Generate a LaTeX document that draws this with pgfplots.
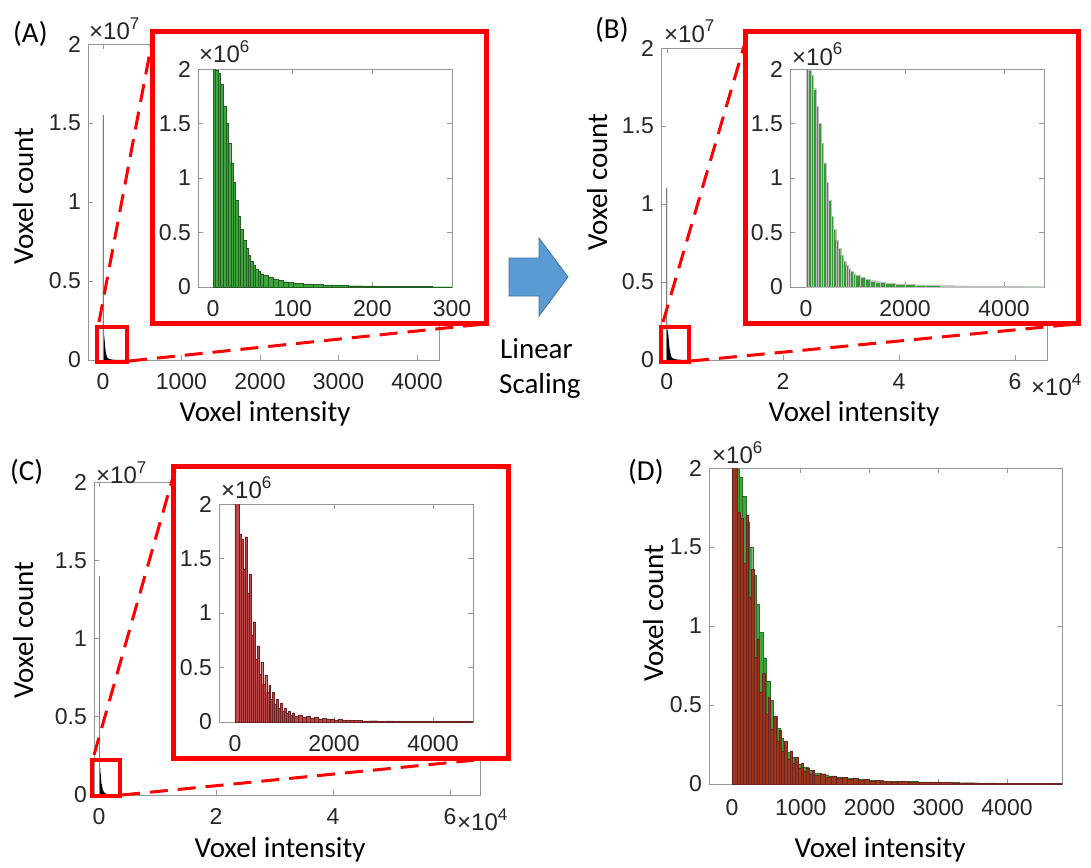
\documentclass[border=0pt]{standalone}
\usepackage{fontspec}
\setmainfont{Carlito}
\newfontfamily\arialf{Liberation Sans}
\usepackage{pgfplots}
\usepackage{pgfplotstable}
\pgfplotsset{compat=1.18}

\definecolor{axgray}{RGB}{150,150,150}
\definecolor{tickcol}{RGB}{38,38,38}
\definecolor{hgreen}{RGB}{62,165,62}
\definecolor{hgreenedge}{RGB}{35,95,35}
\definecolor{hred}{RGB}{190,72,72}
\definecolor{hrededge}{RGB}{110,35,35}
\definecolor{dred}{RGB}{165,45,25}
\definecolor{arrowblue}{RGB}{91,155,213}
\definecolor{arrowedge}{RGB}{65,113,156}

\newcommand\tickfont{\arialf\fontsize{23}{23}\selectfont}
\newcommand\expfont{\arialf\fontsize{24}{24}\selectfont}
\newcommand\labfont{\fontsize{29}{29}\selectfont}
\newcommand\supx[1]{\raisebox{10pt}{\arialf\fontsize{17}{17}\selectfont #1}}

% original intensities (A), counts in 1e6
\pgfplotstableread{
x y
0 15.5
3 1.99
6 1.96
9 1.86
12.5 1.66
16 1.50
19 1.32
22 1.14
25 0.96
28 0.80
31 0.65
34 0.53
37.5 0.43
41 0.355
44 0.29
47 0.24
50 0.20
53 0.168
56 0.143
59 0.123
62.5 0.106
69 0.087
75 0.071
81 0.059
87.5 0.049
94 0.042
100 0.036
112.5 0.029
125 0.023
137.5 0.019
150 0.016
169 0.013
187.5 0.010
206 0.008
225 0.006
250 0.0045
275 0.0035
300 0.003
}\greenA

% linearly scaled intensities (B), counts in 1e6
\pgfplotstableread{
x y
0 11.0
50 1.99
100 1.94
150 1.82
200 1.66
250 1.50
300 1.32
350 1.14
400 0.96
450 0.80
500 0.65
550 0.53
600 0.43
650 0.355
700 0.29
750 0.24
800 0.20
850 0.168
900 0.143
950 0.123
1000 0.106
1100 0.087
1200 0.071
1300 0.059
1400 0.049
1500 0.042
1600 0.036
1800 0.029
2000 0.023
2200 0.019
2400 0.016
2700 0.013
3000 0.010
3300 0.008
3600 0.006
4000 0.0045
4400 0.0035
4800 0.003
}\greenB

% second data set (C), counts in 1e6
\pgfplotstableread{
x y
0 14.0
80 1.72
120 1.68
160 1.40
200 1.70
240 1.18
280 1.36
320 0.80
360 0.92
400 0.58
440 0.70
480 0.44
520 0.55
560 0.35
600 0.43
640 0.27
680 0.34
720 0.21
760 0.27
800 0.16
840 0.21
880 0.13
920 0.17
960 0.10
1000 0.13
1040 0.08
1080 0.10
1120 0.065
1160 0.085
1200 0.055
1280 0.065
1360 0.045
1440 0.052
1520 0.036
1600 0.042
1680 0.029
1760 0.034
1840 0.024
1920 0.028
2000 0.019
2080 0.023
2160 0.016
2240 0.019
2320 0.013
2400 0.015
2560 0.011
2720 0.012
2880 0.009
3040 0.010
3200 0.007
3360 0.008
3520 0.006
3680 0.0065
3840 0.005
4000 0.0055
4160 0.004
4320 0.0045
4480 0.0035
4640 0.004
4800 0
}\redC

\pgfplotsset{
  hist/.style={
    scale only axis, anchor=south west, clip=true,
    axis line style={axgray, line width=0.8pt},
    every tick/.style={axgray, line width=0.6pt},
    major tick length=5pt, tick align=inside,
    ticklabel style={font=\tickfont, text=tickcol},
    xticklabel style={inner sep=0pt, yshift=-13pt},
    yticklabel style={inner sep=0pt, xshift=-7pt},
    scaled ticks=false,
    /pgf/number format/assume math mode=true,
    ymin=0,
  },
  mainy/.style={ymax=20, ytick={0,5,10,15,20}, yticklabels={0,0.5,1,1.5,2}},
  insety/.style={ymax=2, ytick={0,0.5,1,1.5,2}, yticklabels={0,0.5,1,1.5,2}},
}

\begin{document}
\begin{tikzpicture}
\useasboundingbox (0pt,0pt) rectangle (1091pt,-867pt);

% ---------------- (A) ----------------
\begin{axis}[hist, mainy, at={(88pt,-360pt)}, width=351pt, height=316pt,
  xmin=-190, xmax=4280, xtick={0,1000,2000,3000,4000}, xticklabels={0,1000,2000,3000,4000}]
  \addplot[ybar interval, fill=black, draw=none] table[x=x,y=y] {\greenA};
  \addplot[gray, line width=0.8pt] coordinates {(0,0) (0,15.5)};
\end{axis}
\fill[white] (152pt,-32pt) rectangle (486pt,-323pt);
\begin{axis}[hist, insety, at={(198pt,-287pt)}, width=254pt, height=218pt,
  xmin=-19, xmax=300, xtick={0,100,200,300}, xticklabels={0,100,200,300}]
  \addplot[ybar interval, fill=hgreen, draw=hgreenedge, line width=0.15pt] table[x=x,y=y] {\greenA};
\end{axis}

% ---------------- (B) ----------------
\begin{axis}[hist, mainy, at={(661pt,-360pt)}, width=386pt, height=312pt,
  xmin=-1000, xmax=65500, xtick={0,20000,40000,60000}, xticklabels={0,2,4,6}]
  \addplot[ybar interval, fill=black, draw=none] table[x=x,y=y] {\greenB};
  \addplot[gray, line width=0.8pt] coordinates {(0,0) (0,11.0)};
\end{axis}
\fill[white] (745pt,-32pt) rectangle (1078pt,-323pt);
\begin{axis}[hist, insety, at={(790pt,-287pt)}, width=254pt, height=218pt,
  xmin=-323, xmax=4808, xtick={0,2000,4000}, xticklabels={0,2000,4000}]
  \addplot[ybar interval, fill=hgreen!92!black, draw=gray!50, line width=0.12pt] table[x=x,y=y] {\greenB};
\end{axis}

% ---------------- (C) ----------------
\begin{axis}[hist, mainy, at={(94pt,-795pt)}, width=386pt, height=313pt,
  xmin=-855, xmax=65130, xtick={0,20000,40000,60000}, xticklabels={0,2,4,6}]
  \addplot[ybar interval, fill=black, draw=none] table[x=x,y=y] {\redC};
  \addplot[gray, line width=0.8pt] coordinates {(0,0) (0,14.0)};
\end{axis}
\fill[white] (173pt,-466pt) rectangle (508pt,-758pt);
\begin{axis}[hist, insety, at={(219pt,-722pt)}, width=254pt, height=218pt,
  xmin=-323, xmax=4808, xtick={0,2000,4000}, xticklabels={0,2000,4000}]
  \addplot[ybar interval, fill=hred, draw=hrededge, line width=0.3pt] table[x=x,y=y] {\redC};
\end{axis}

% ---------------- (D) ----------------
\begin{axis}[hist, insety, at={(709pt,-784pt)}, width=353pt, height=316pt,
  xmin=-335, xmax=4800, xtick={0,1000,2000,3000,4000}, xticklabels={0,1000,2000,3000,4000},
  xticklabel style={yshift=-2pt}]
  \addplot[ybar interval, fill=hgreen, draw=hgreen!70!black, line width=0.2pt] table[x=x,y=y] {\greenB};
  \addplot[ybar interval, fill=dred, fill opacity=0.9, draw=hrededge, line width=0.3pt] table[x=x,y=y] {\redC};
\end{axis}

% ---------------- zoom boxes ----------------
\begin{scope}[red, line width=3pt, dash pattern=on 18pt off 10pt]
  \draw (99pt,-322pt) -- (153pt,-36pt);
  \draw (129pt,-361pt) -- (484pt,-324pt);
  \draw (663pt,-322pt) -- (747pt,-36pt);
  \draw (691pt,-361pt) -- (1076pt,-324pt);
  \draw (94pt,-755pt) -- (175pt,-470pt);
  \draw (122pt,-795pt) -- (506pt,-757pt);
\end{scope}
\begin{scope}[red, line width=5pt]
  \draw (152pt,-32pt) rectangle (486pt,-323pt);
  \draw (745pt,-32pt) rectangle (1078pt,-323pt);
  \draw (173pt,-466pt) rectangle (508pt,-758pt);
\end{scope}
\begin{scope}[red, line width=4pt]
  \draw (97pt,-327pt) rectangle (127pt,-362pt);
  \draw (661pt,-327pt) rectangle (689pt,-362pt);
  \draw (92pt,-760pt) rectangle (120pt,-796pt);
\end{scope}

% ---------------- exponents ----------------
\begin{scope}[every node/.style={anchor=base west, inner sep=0pt, text=tickcol, font=\expfont}]
  \node at (89pt,-40pt) {×10\supx{7}};
  \node at (199pt,-63pt) {×10\supx{6}};
  \node at (664pt,-42pt) {×10\supx{7}};
  \node at (792pt,-65pt) {×10\supx{6}};
  \node at (96pt,-483pt) {×10\supx{7}};
  \node at (221pt,-498pt) {×10\supx{6}};
  \node at (712pt,-463pt) {×10\supx{6}};
  \node at (1031pt,-395pt) {×10\supx{4}};
  \node at (457pt,-830pt) {×10\supx{4}};
\end{scope}

% ---------------- labels ----------------
\begin{scope}[every node/.style={inner sep=0pt, font=\labfont}]
  \node[anchor=base west] at (13pt,-43pt) {(A)};
  \node[anchor=base west] at (595pt,-39pt) {(B)};
  \node[anchor=base west] at (10pt,-480pt) {(C)};
  \node[anchor=base west] at (628pt,-480pt) {(D)};
  \node[anchor=base] at (265pt,-421pt) {Voxel intensity};
  \node[anchor=base] at (854pt,-421pt) {Voxel intensity};
  \node[anchor=base] at (280pt,-857pt) {Voxel intensity};
  \node[anchor=base] at (880pt,-857pt) {Voxel intensity};
  \node[anchor=base, rotate=90] at (33pt,-196pt) {Voxel count};
  \node[anchor=base, rotate=90] at (607pt,-182pt) {Voxel count};
  \node[anchor=base, rotate=90] at (33pt,-630pt) {Voxel count};
  \node[anchor=base, rotate=90] at (663pt,-613pt) {Voxel count};
  \node[anchor=base west] at (500pt,-358pt) {Linear};
  \node[anchor=base west] at (499pt,-393pt) {Scaling};
\end{scope}

% ---------------- arrow ----------------
\filldraw[fill=arrowblue, draw=arrowedge, line width=0.8pt]
  (509pt,-258pt) -- (539pt,-258pt) -- (539pt,-238pt) -- (568pt,-277pt)
  -- (539pt,-316pt) -- (539pt,-296pt) -- (509pt,-296pt) -- cycle;
\end{tikzpicture}
\end{document}
